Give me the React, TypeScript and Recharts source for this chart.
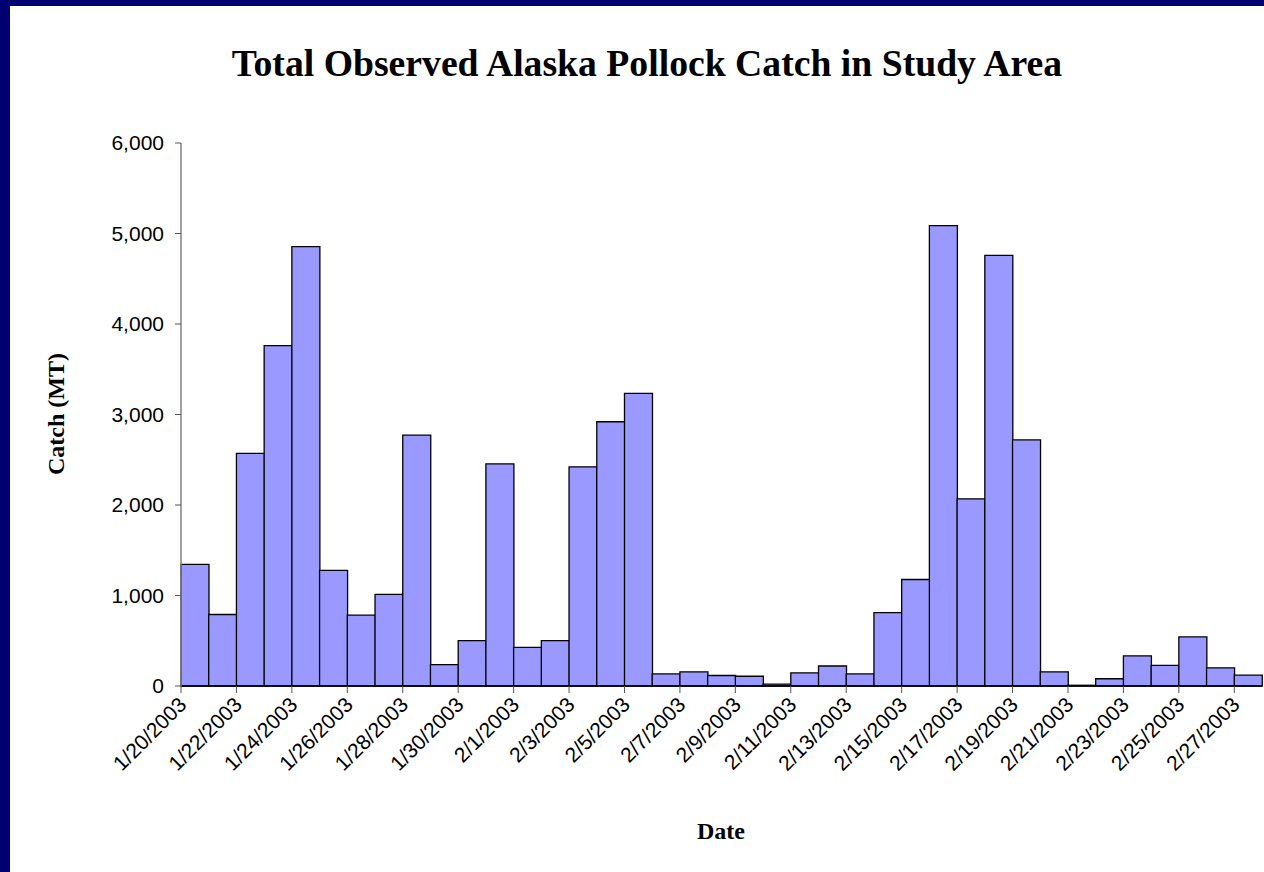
import { Bar, BarChart, XAxis, YAxis } from "recharts";

const dates = [
  "1/20/2003", "1/21/2003", "1/22/2003", "1/23/2003", "1/24/2003",
  "1/25/2003", "1/26/2003", "1/27/2003", "1/28/2003", "1/29/2003",
  "1/30/2003", "1/31/2003", "2/1/2003", "2/2/2003", "2/3/2003",
  "2/4/2003", "2/5/2003", "2/6/2003", "2/7/2003", "2/8/2003",
  "2/9/2003", "2/10/2003", "2/11/2003", "2/12/2003", "2/13/2003",
  "2/14/2003", "2/15/2003", "2/16/2003", "2/17/2003", "2/18/2003",
  "2/19/2003", "2/20/2003", "2/21/2003", "2/22/2003", "2/23/2003",
  "2/24/2003", "2/25/2003", "2/26/2003", "2/27/2003",
];

// catch in metric tons
const catchMT = [
  1345, 790, 2570, 3760, 4855, 1277, 783, 1012, 2771, 237,
  502, 2454, 426, 502, 2422, 2920, 3233, 133, 157, 116,
  108, 20, 145, 221, 133, 811, 1177, 5088, 2068, 4759,
  2719, 157, 8, 80, 333, 229, 542, 201, 120,
];

const yTicks = [0, 1000, 2000, 3000, 4000, 5000, 6000];

const data = dates.map((d, i) => ({ date: d, value: catchMT[i] }));

const W = 1264;
const H = 872;
const MARGIN = { top: 143, right: 2, bottom: 86, left: 101 };
const Y_AXIS_W = 80;
const X_AXIS_H = 100;
const PLOT_W = W - MARGIN.left - MARGIN.right - Y_AXIS_W;
const BAND = PLOT_W / dates.length;

const sans = "'Liberation Sans', Arial, sans-serif";
const serif = "'Liberation Serif', 'Times New Roman', serif";

function DateTick(props: any) {
  const { x, y, payload } = props;
  const left = x - BAND / 2;
  const ax = x - 7;
  const ay = y + 13;
  return (
    <g>
      <line x1={left} x2={left} y1={y - 7} y2={y} stroke="#555" strokeWidth={1} />
      <text
        x={ax}
        y={ay}
        textAnchor="end"
        fontFamily={sans}
        fontSize={21}
        fill="#000"
        transform={`rotate(-45, ${ax}, ${ay})`}
      >
        {payload.value}
      </text>
    </g>
  );
}

export default function App() {
  return (
    <div
      style={{
        position: "absolute",
        left: 0,
        top: 0,
        width: W,
        height: H,
        background: "#000070",
        overflow: "hidden",
      }}
    >
      <div
        style={{
          position: "absolute",
          left: 10,
          top: 6,
          width: W - 10,
          height: H - 6,
          background: "#fff",
        }}
      />
      <div style={{ position: "absolute", left: 0, top: 0 }}>
        <BarChart
          width={W}
          height={H}
          data={data}
          margin={MARGIN}
          barCategoryGap={0}
          barGap={0}
        >
          <XAxis
            dataKey="date"
            interval={1}
            height={X_AXIS_H}
            tickLine={false}
            tickSize={7}
            tickMargin={0}
            axisLine={{ stroke: "#000", strokeWidth: 1.5 }}
            tick={<DateTick />}
          />
          <YAxis
            width={Y_AXIS_W}
            domain={[0, 6000]}
            ticks={yTicks}
            tickSize={6}
            tickMargin={11}
            axisLine={{ stroke: "#808080", strokeWidth: 1.5 }}
            tickLine={{ stroke: "#555" }}
            tick={{ fontFamily: sans, fontSize: 21, fill: "#000" }}
            tickFormatter={(v: number) => v.toLocaleString("en-US")}
          />
          <Bar
            dataKey="value"
            fill="#9999FF"
            stroke="#000"
            strokeWidth={1.3}
            isAnimationActive={false}
          />
        </BarChart>
      </div>
      <svg
        width={W}
        height={H}
        style={{ position: "absolute", left: 0, top: 0, pointerEvents: "none" }}
      >
        <text
          x={647}
          y={76}
          textAnchor="middle"
          fontFamily={serif}
          fontWeight="bold"
          fontSize={37.7}
          fill="#000"
        >
          Total Observed Alaska Pollock Catch in Study Area
        </text>
        <text
          x={64}
          y={414}
          textAnchor="middle"
          fontFamily={serif}
          fontWeight="bold"
          fontSize={24}
          fill="#000"
          transform="rotate(-90, 64, 414)"
        >
          Catch (MT)
        </text>
        <text
          x={721}
          y={839}
          textAnchor="middle"
          fontFamily={serif}
          fontWeight="bold"
          fontSize={24}
          fill="#000"
        >
          Date
        </text>
      </svg>
    </div>
  );
}
